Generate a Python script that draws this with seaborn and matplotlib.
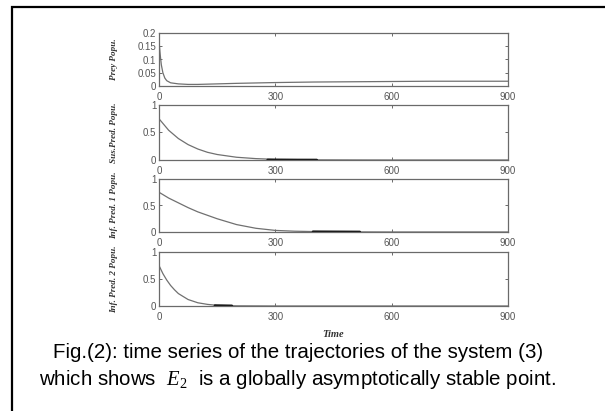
import matplotlib
matplotlib.use("Agg")
import matplotlib.pyplot as plt
from matplotlib.patches import Rectangle
import numpy as np
import pandas as pd
import seaborn as sns

# Time axis shared by all four populations
t_prey = [0, 3, 6, 10, 15, 20, 30, 50, 75, 100, 150, 200, 300, 400, 500, 600, 700, 800, 900]
prey = [0.17, 0.12, 0.08, 0.05, 0.03, 0.02, 0.012, 0.008, 0.006, 0.006, 0.008, 0.010,
        0.013, 0.015, 0.016, 0.017, 0.018, 0.018, 0.018]

t_sus = [0, 25, 50, 75, 100, 125, 150, 200, 250, 300, 400, 500, 600, 700, 800, 900]
sus = [0.75, 0.54, 0.39, 0.28, 0.20, 0.14, 0.10, 0.05, 0.025, 0.012, 0.003, 0.001,
       0.0, 0.0, 0.0, 0.0]

t_inf1 = [0, 25, 50, 75, 100, 150, 200, 250, 300, 350, 400, 500, 600, 700, 800, 900]
inf1 = [0.75, 0.64, 0.55, 0.46, 0.38, 0.25, 0.14, 0.07, 0.03, 0.015, 0.008, 0.002,
        0.0, 0.0, 0.0, 0.0]

t_inf2 = [0, 10, 20, 30, 40, 50, 75, 100, 125, 150, 200, 300, 400, 500, 600, 700, 800, 900]
inf2 = [0.75, 0.60, 0.48, 0.38, 0.30, 0.23, 0.12, 0.06, 0.03, 0.012, 0.003, 0.0,
        0.0, 0.0, 0.0, 0.0, 0.0, 0.0]

# Settled tails, drawn heavier where the trajectory lies on zero
tail_t = [[0, 0], [280, 407], [397, 518], [144, 188]]
tail_v = [[0, 0], [0.002, 0.001], [0.006, 0.002], [0.008, 0.004]]

ylabels = ["Prey Popu.", "Sus.Pred. Popu.", "Inf. Pred. 1 Popu.", "Inf. Pred. 2 Popu."]
yticks = [[0, 0.05, 0.1, 0.15, 0.2], [0, 0.5, 1], [0, 0.5, 1], [0, 0.5, 1]]
ytick_labels = [["0", "0.05", "0.1", "0.15", "0.2"], ["0", "0.5", "1"], ["0", "0.5", "1"], ["0", "0.5", "1"]]
ylims = [(0, 0.2), (0, 1), (0, 1), (0, 1)]
xticks = [0, 300, 600, 900]
caption1 = "Fig.(2): time series of the trajectories of the system (3)"
caption2 = r"which shows  $E_2$  is a globally asymptotically stable point."

sns.set_style("white")
plt.rcParams["font.family"] = ["Liberation Sans", "DejaVu Sans"]
plt.rcParams["mathtext.fontset"] = "custom"
plt.rcParams["mathtext.rm"] = "Liberation Serif"
plt.rcParams["mathtext.it"] = "Liberation Serif:italic"

W, H = 605, 411
fig = plt.figure(figsize=(W / 100, H / 100), dpi=100)
fig.patch.set_facecolor("white")

# Heavy frame around the figure and its caption
fig.patches.append(Rectangle((12 / W, -0.2), 1.2, 1 - 7 / H + 0.2, transform=fig.transFigure,
                             fill=False, edgecolor="black", linewidth=1.6))

left, right = 159, 508
panels = [(33, 86), (105, 160), (179, 232), (252, 306)]
series = [(t_prey, prey), (t_sus, sus), (t_inf1, inf1), (t_inf2, inf2)]

spine_col = "#6a6a6a"
for i, ((top, bot), (tt, vv)) in enumerate(zip(panels, series)):
    ax = fig.add_axes([left / W, 1 - bot / H, (right - left) / W, (bot - top) / H])
    df = pd.DataFrame({"t": tt, "v": vv})
    sns.lineplot(data=df, x="t", y="v", ax=ax, color="#707070", linewidth=0.9)
    if i > 0:
        tdf = pd.DataFrame({"t": tail_t[i], "v": tail_v[i]})
        sns.lineplot(data=tdf, x="t", y="v", ax=ax, color="#111111", linewidth=1.8)
    ax.set_xlim(0, 900)
    ax.set_ylim(*ylims[i])
    ax.set_xticks(xticks)
    ax.set_xticklabels([str(x) for x in xticks])
    ax.set_yticks(yticks[i])
    ax.set_yticklabels(ytick_labels[i])
    ax.tick_params(direction="in", length=2.5, width=0.7, colors=spine_col,
                   labelcolor="#555555", labelsize=7, top=True, right=True,
                   bottom=True, left=True, pad=2)
    ax.tick_params(axis="x", pad=4)
    for s in ax.spines.values():
        s.set_color(spine_col)
        s.set_linewidth(0.9)
    ax.set_ylabel(ylabels[i], family="Liberation Serif", style="italic", weight="bold",
                  fontsize=6.6, color="#333333")
    ax.yaxis.set_label_coords(-0.118, 0.5)
    if i == 3:
        ax.set_xlabel("Time", family="Liberation Serif", style="italic", weight="bold",
                      fontsize=7.5, color="#333333", labelpad=6)
    else:
        ax.set_xlabel("")

fig.text(298 / W, 1 - 353 / H, caption1, ha="center", va="center", fontsize=14.8, color="black")
fig.text(298 / W, 1 - 379 / H, caption2, ha="center", va="center", fontsize=14.8, color="black")

fig.savefig("out.png", dpi=100, facecolor="white")
